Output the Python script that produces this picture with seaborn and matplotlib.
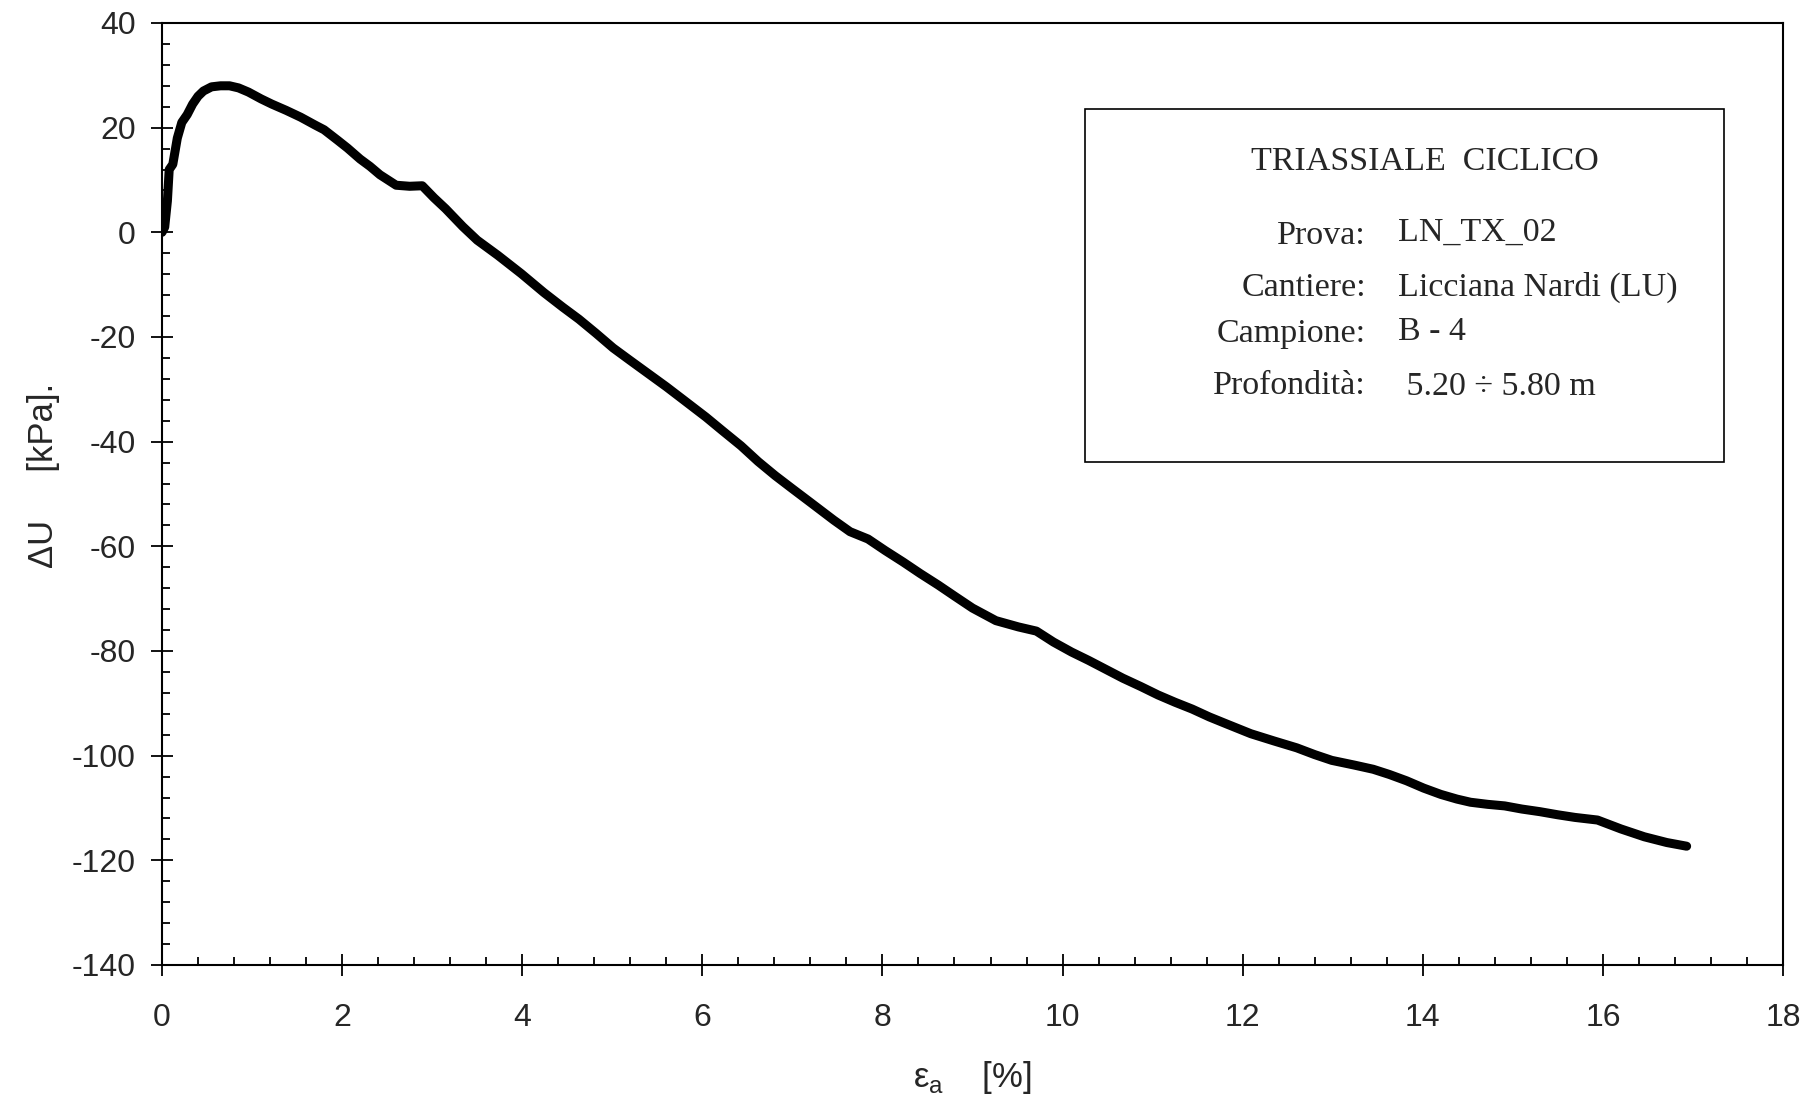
import matplotlib
matplotlib.use('Agg')
import matplotlib.pyplot as plt
import seaborn as sns
import pandas as pd
from matplotlib.patches import Rectangle
from matplotlib.ticker import MultipleLocator

# axial strain [%] and excess pore pressure [kPa]
strain = [0.00, 0.03, 0.06, 0.08, 0.12, 0.17, 0.22, 0.28, 0.34, 0.40, 0.46, 0.55,
          0.65, 0.75, 0.85, 0.96, 1.10, 1.22, 1.38, 1.54, 1.70, 1.80, 1.95, 2.06,
          2.20, 2.31, 2.42, 2.51, 2.60, 2.75, 2.89, 3.02, 3.15, 3.34, 3.50, 3.73,
          3.99, 4.24, 4.45, 4.63, 4.82, 5.01, 5.20, 5.40, 5.60, 5.79, 6.04, 6.23,
          6.43, 6.62, 6.81, 7.00, 7.20, 7.46, 7.64, 7.84, 8.03, 8.23, 8.42, 8.62,
          8.80, 9.00, 9.26, 9.51, 9.71, 9.90, 10.10, 10.29, 10.48, 10.67, 10.87,
          11.06, 11.25, 11.44, 11.63, 11.83, 12.09, 12.35, 12.60, 12.80, 12.99,
          13.24, 13.45, 13.63, 13.82, 14.01, 14.20, 14.38, 14.53, 14.72, 14.91,
          15.10, 15.30, 15.50, 15.69, 15.94, 16.20, 16.46, 16.71, 16.93]
du = [0.0, 1.0, 6.0, 12.0, 13.0, 18.0, 21.0, 22.5, 24.5, 26.0, 27.0, 27.8,
      28.0, 28.0, 27.6, 26.8, 25.5, 24.5, 23.3, 22.0, 20.5, 19.6, 17.6, 16.1,
      14.0, 12.6, 11.0, 10.0, 9.0, 8.8, 8.9, 6.6, 4.5, 1.1, -1.5, -4.4,
      -7.9, -11.5, -14.3, -16.6, -19.3, -22.1, -24.5, -27.0, -29.5, -32.0, -35.3, -38.0,
      -40.8, -43.8, -46.5, -49.0, -51.6, -55.0, -57.2, -58.6, -60.8, -63.0, -65.2, -67.4,
      -69.5, -71.8, -74.2, -75.4, -76.2, -78.3, -80.2, -81.8, -83.5, -85.2, -86.8,
      -88.4, -89.8, -91.1, -92.6, -94.0, -95.8, -97.2, -98.5, -99.8, -100.9,
      -101.8, -102.6, -103.6, -104.8, -106.2, -107.4, -108.3, -108.9, -109.3, -109.6,
      -110.2, -110.7, -111.3, -111.8, -112.3, -114.0, -115.5, -116.6, -117.3]

box_title = 'TRIASSIALE  CICLICO'
box_keys = ['Prova:', 'Cantiere:', 'Campione:', 'Profondità:']
box_vals = ['LN_TX_02', 'Licciana Nardi (LU)', 'B - 4', ' 5.20 ÷ 5.80 m']

df = pd.DataFrame({'strain': strain, 'du': du})

sns.set_style('white')
plt.rcParams['font.family'] = ['Liberation Sans', 'DejaVu Sans']
plt.rcParams['mathtext.fontset'] = 'custom'
plt.rcParams['mathtext.rm'] = 'Liberation Sans'
plt.rcParams['axes.unicode_minus'] = False

fig = plt.figure(figsize=(18.16, 10.97), dpi=100)
ax = fig.add_axes([162 / 1816, 1 - 965 / 1097, 1621 / 1816, 942 / 1097])

sns.lineplot(data=df, x='strain', y='du', ax=ax, color='black', linewidth=6.5,
             sort=False, estimator=None)
for line in ax.lines:
    line.set_solid_capstyle('round')
    line.set_solid_joinstyle('round')

ax.set_xlim(0, 18)
ax.set_ylim(-140, 40)
ax.xaxis.set_major_locator(MultipleLocator(2))
ax.xaxis.set_minor_locator(MultipleLocator(0.4))
ax.yaxis.set_major_locator(MultipleLocator(20))
ax.yaxis.set_minor_locator(MultipleLocator(4))

for s in ax.spines.values():
    s.set_linewidth(1.5)
    s.set_color('black')

ax.tick_params(which='major', direction='inout', length=16, width=1.3,
               labelsize=23, color='black', bottom=True, left=True)
ax.tick_params(which='minor', direction='in', length=6, width=1.3,
               color='black', bottom=True, left=True)
ax.tick_params(axis='y', which='major', pad=11)
ax.tick_params(axis='x', which='major', pad=19)

ax.set_xlabel('ε$_\\mathregular{a}$    [%]', fontsize=25, va='center')
ax.set_ylabel('ΔU     [kPa].', fontsize=25, va='center')
ax.xaxis.set_label_coords(0.5, -0.119)
ax.yaxis.set_label_coords(-0.0734, 0.52)

# info box
W, H = 1816, 1097
fig.add_artist(Rectangle((1085 / W, 1 - 462 / H), (1724 - 1085) / W, (462 - 109) / H,
                         transform=fig.transFigure, fill=False, edgecolor='black',
                         linewidth=1.2))
serif = ['Liberation Serif', 'DejaVu Serif']
fig.text(1425 / W, 1 - 170 / H, box_title, ha='center', va='baseline',
         fontsize=24.5, family=serif)
key_y = [244, 296, 342, 394]
val_y = [241, 296, 340, 395]
for k, v, ky, vy in zip(box_keys, box_vals, key_y, val_y):
    fig.text(1366 / W, 1 - ky / H, k, ha='right', va='baseline', fontsize=24.5, family=serif)
    fig.text(1398 / W, 1 - vy / H, v, ha='left', va='baseline', fontsize=24.5, family=serif)

fig.savefig('out.png', dpi=100)
